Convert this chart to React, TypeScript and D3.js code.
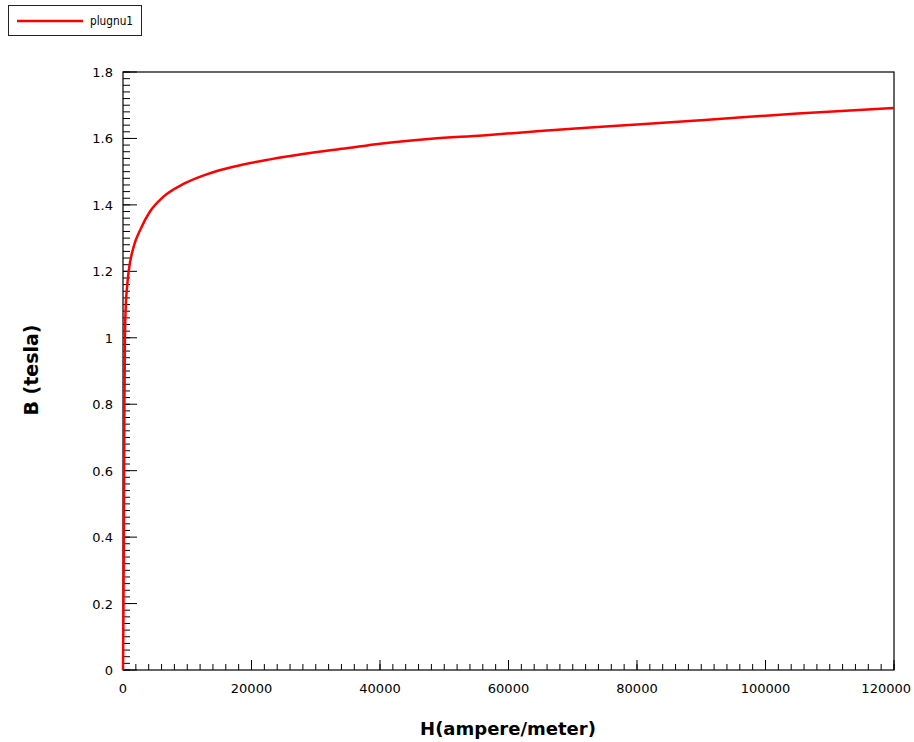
import React from "react";
import * as d3 from "d3";

const hValues = [0, 80, 150, 220, 300, 400, 620, 880, 1600, 2800, 4200, 6300, 9400, 13000, 17200, 22900, 28000, 35000, 40000, 48000, 56000, 64000, 71000, 80000, 90000, 105000, 120000];
const bValues = [0, 0.2, 0.5, 0.8, 1.0, 1.08, 1.15, 1.2, 1.27, 1.33, 1.38, 1.425, 1.463, 1.492, 1.515, 1.537, 1.553, 1.571, 1.584, 1.599, 1.609, 1.621, 1.631, 1.642, 1.655, 1.675, 1.692];
const xTickValues = [0, 20000, 40000, 60000, 80000, 100000, 120000];
const yTickValues = [0, 0.2, 0.4, 0.6, 0.8, 1, 1.2, 1.4, 1.6, 1.8];
const seriesName = "plugnu1";
const xTitle = "H(ampere/meter)";
const yTitle = "B (tesla)";

const W = 914, H = 742;
const L = 123, R = 894, T = 72, B = 670;
const FONT = "'DejaVu Sans', sans-serif";

export default function App() {
  const x = d3.scaleLinear().domain([0, 120000]).range([L, R]);
  const y = d3.scaleLinear().domain([0, 1.8]).range([B, T]);
  const data = hValues.map((h, i) => [h, bValues[i]] as [number, number]);
  const line = d3.line<[number, number]>().x(d => x(d[0])).y(d => y(d[1])).curve(d3.curveMonotoneX);
  const xMinor = d3.range(0, 120001, 2000);
  const yMinor = d3.range(0, 91).map(i => i * 0.02);

  return (
    <svg width={W} height={H} style={{ position: "absolute", left: 0, top: 0, background: "#fff" }}>
      <rect x={0} y={0} width={W} height={H} fill="#fff" />
      {/* legend */}
      <rect x={8.5} y={5.5} width={133} height={30} fill="#fff" stroke="#222" strokeWidth={1} />
      <line x1={17} x2={83} y1={21} y2={21} stroke="#f00" strokeWidth={2.5} />
      <text x={90} y={25} fontFamily={FONT} fontSize={13} textLength={43} lengthAdjust="spacingAndGlyphs" fill="#000">{seriesName}</text>

      {/* minor ticks */}
      {xMinor.map(v => (
        <line key={"xm" + v} x1={x(v)} x2={x(v)} y1={B} y2={B - 6} stroke="#000" strokeWidth={1} />
      ))}
      {xTickValues.map(v => (
        <line key={"xM" + v} x1={x(v)} x2={x(v)} y1={B} y2={B - 10} stroke="#000" strokeWidth={1} />
      ))}
      {yMinor.map((v, i) => (
        <line key={"ym" + i} x1={L} x2={L + 7} y1={y(v)} y2={y(v)} stroke="#000" strokeWidth={1} />
      ))}
      {yTickValues.map(v => (
        <line key={"yM" + v} x1={L} x2={L + 14} y1={y(v)} y2={y(v)} stroke="#000" strokeWidth={1} />
      ))}

      {/* frame */}
      <rect x={L} y={T} width={R - L} height={B - T} fill="none" stroke="#000" strokeWidth={1.2} />

      {/* tick labels */}
      {xTickValues.map((v, i) => {
        const last = i === xTickValues.length - 1;
        return (
          <text key={"xl" + v} x={last ? 911 : x(v)} y={B + 23} textAnchor={last ? "end" : "middle"} fontFamily={FONT} fontSize={13} fill="#000">{String(v)}</text>
        );
      })}
      {yTickValues.map(v => (
        <text key={"yl" + v} x={L - 10} y={y(v) + 5} textAnchor="end" fontFamily={FONT} fontSize={13} fill="#000">{String(v)}</text>
      ))}

      {/* curve */}
      <path d={line(data) || ""} fill="none" stroke="#f00" strokeWidth={2.5} />

      {/* axis titles */}
      <text x={508} y={735} textAnchor="middle" fontFamily={FONT} fontSize={18} fontWeight="bold" fill="#000">{xTitle}</text>
      <text transform="translate(38,370) rotate(-90)" textAnchor="middle" fontFamily={FONT} fontSize={19} fontWeight="bold" fill="#000">{yTitle}</text>
    </svg>
  );
}
